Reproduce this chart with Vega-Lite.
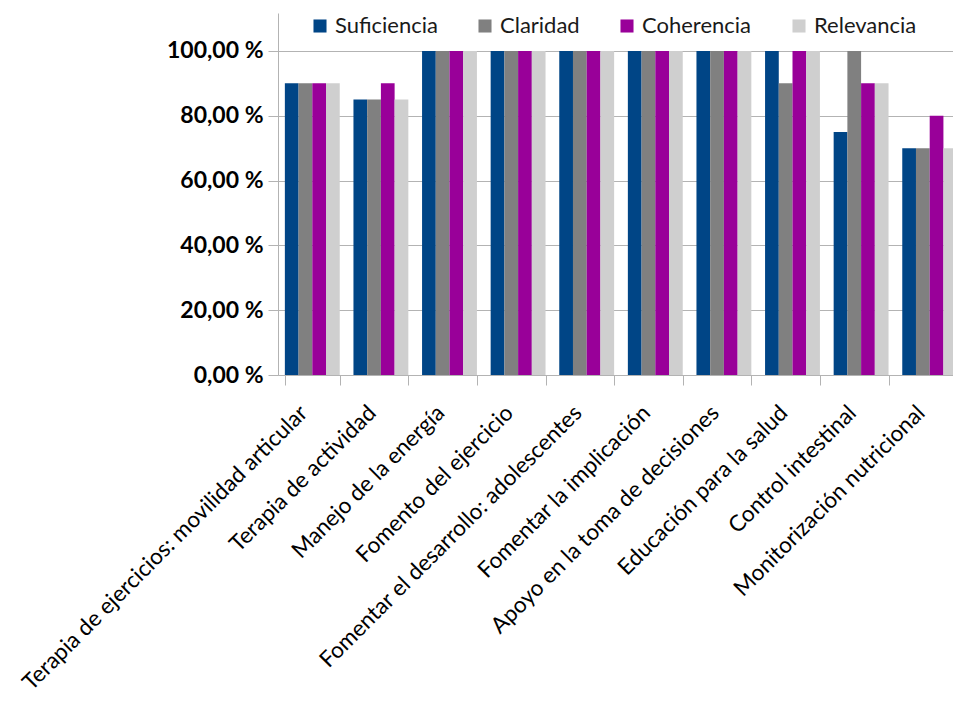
{
  "$schema": "https://vega.github.io/schema/vega-lite/v6.json",
  "autosize": {"type": "none"},
  "padding": {"left": 278, "top": 13, "right": 0, "bottom": 329},
  "width": 686,
  "height": 362,
  "data": {
    "values": [
      {"cat": "Terapia de ejercicios: movilidad articular", "serie": "Suficiencia", "v": 90},
      {"cat": "Terapia de ejercicios: movilidad articular", "serie": "Claridad", "v": 90},
      {"cat": "Terapia de ejercicios: movilidad articular", "serie": "Coherencia", "v": 90},
      {"cat": "Terapia de ejercicios: movilidad articular", "serie": "Relevancia", "v": 90},
      {"cat": "Terapia de actividad", "serie": "Suficiencia", "v": 85},
      {"cat": "Terapia de actividad", "serie": "Claridad", "v": 85},
      {"cat": "Terapia de actividad", "serie": "Coherencia", "v": 90},
      {"cat": "Terapia de actividad", "serie": "Relevancia", "v": 85},
      {"cat": "Manejo de la energía", "serie": "Suficiencia", "v": 100},
      {"cat": "Manejo de la energía", "serie": "Claridad", "v": 100},
      {"cat": "Manejo de la energía", "serie": "Coherencia", "v": 100},
      {"cat": "Manejo de la energía", "serie": "Relevancia", "v": 100},
      {"cat": "Fomento del ejercicio", "serie": "Suficiencia", "v": 100},
      {"cat": "Fomento del ejercicio", "serie": "Claridad", "v": 100},
      {"cat": "Fomento del ejercicio", "serie": "Coherencia", "v": 100},
      {"cat": "Fomento del ejercicio", "serie": "Relevancia", "v": 100},
      {"cat": "Fomentar el desarrollo: adolescentes", "serie": "Suficiencia", "v": 100},
      {"cat": "Fomentar el desarrollo: adolescentes", "serie": "Claridad", "v": 100},
      {"cat": "Fomentar el desarrollo: adolescentes", "serie": "Coherencia", "v": 100},
      {"cat": "Fomentar el desarrollo: adolescentes", "serie": "Relevancia", "v": 100},
      {"cat": "Fomentar la implicación", "serie": "Suficiencia", "v": 100},
      {"cat": "Fomentar la implicación", "serie": "Claridad", "v": 100},
      {"cat": "Fomentar la implicación", "serie": "Coherencia", "v": 100},
      {"cat": "Fomentar la implicación", "serie": "Relevancia", "v": 100},
      {"cat": "Apoyo en la toma de decisiones", "serie": "Suficiencia", "v": 100},
      {"cat": "Apoyo en la toma de decisiones", "serie": "Claridad", "v": 100},
      {"cat": "Apoyo en la toma de decisiones", "serie": "Coherencia", "v": 100},
      {"cat": "Apoyo en la toma de decisiones", "serie": "Relevancia", "v": 100},
      {"cat": "Educación para la salud", "serie": "Suficiencia", "v": 100},
      {"cat": "Educación para la salud", "serie": "Claridad", "v": 90},
      {"cat": "Educación para la salud", "serie": "Coherencia", "v": 100},
      {"cat": "Educación para la salud", "serie": "Relevancia", "v": 100},
      {"cat": "Control intestinal", "serie": "Suficiencia", "v": 75},
      {"cat": "Control intestinal", "serie": "Claridad", "v": 100},
      {"cat": "Control intestinal", "serie": "Coherencia", "v": 90},
      {"cat": "Control intestinal", "serie": "Relevancia", "v": 90},
      {"cat": "Monitorización nutricional", "serie": "Suficiencia", "v": 70},
      {"cat": "Monitorización nutricional", "serie": "Claridad", "v": 70},
      {"cat": "Monitorización nutricional", "serie": "Coherencia", "v": 80},
      {"cat": "Monitorización nutricional", "serie": "Relevancia", "v": 70}
    ]
  },
  "mark": {"type": "bar"},
  "encoding": {
    "x": {
      "field": "cat",
      "type": "nominal",
      "sort": null,
      "scale": {"paddingInner": 0.2, "paddingOuter": 0.1},
      "axis": {
        "title": null,
        "labelAngle": -45,
        "labelAlign": "right",
        "labelBaseline": "middle",
        "labelFont": "Lato",
        "labelFontSize": 22.5,
        "labelColor": "#000000",
        "labelPadding": 24,
        "labelOffset": -9,
        "labelLimit": 0,
        "tickBand": "extent",
        "tickSize": 10,
        "tickColor": "#b3b3b3",
        "domainColor": "#b3b3b3",
        "grid": false
      }
    },
    "xOffset": {
      "field": "serie",
      "type": "nominal",
      "sort": ["Suficiencia", "Claridad", "Coherencia", "Relevancia"],
      "scale": {"paddingInner": 0, "paddingOuter": 0}
    },
    "y": {
      "field": "v",
      "type": "quantitative",
      "scale": {"domain": [0, 111.7], "nice": false},
      "axis": {
        "title": null,
        "values": [0, 20, 40, 60, 80, 100],
        "labelExpr": "replace(format(datum.value, '.2f'), '.', ',') + ' %'",
        "labelFont": "Lato",
        "labelFontWeight": "bold",
        "labelFontSize": 23,
        "labelColor": "#000000",
        "labelPadding": 5,
        "tickSize": 10,
        "tickColor": "#b3b3b3",
        "domainColor": "#b3b3b3",
        "gridColor": "#b3b3b3",
        "grid": true
      }
    },
    "color": {
      "field": "serie",
      "type": "nominal",
      "sort": ["Suficiencia", "Claridad", "Coherencia", "Relevancia"],
      "scale": {
        "domain": ["Suficiencia", "Claridad", "Coherencia", "Relevancia"],
        "range": ["#004586", "#808080", "#990099", "#cfcfcf"]
      },
      "legend": {
        "title": null,
        "orient": "none",
        "direction": "horizontal",
        "legendX": 31,
        "legendY": 2,
        "padding": 0,
        "symbolType": "square",
        "symbolSize": 170,
        "symbolStrokeWidth": 0,
        "symbolOpacity": 1,
        "labelFont": "Lato",
        "labelFontSize": 22,
        "labelColor": "#1a1a1a",
        "labelOffset": 4,
        "columnPadding": 36
      }
    }
  },
  "config": {"view": {"stroke": null}}
}
